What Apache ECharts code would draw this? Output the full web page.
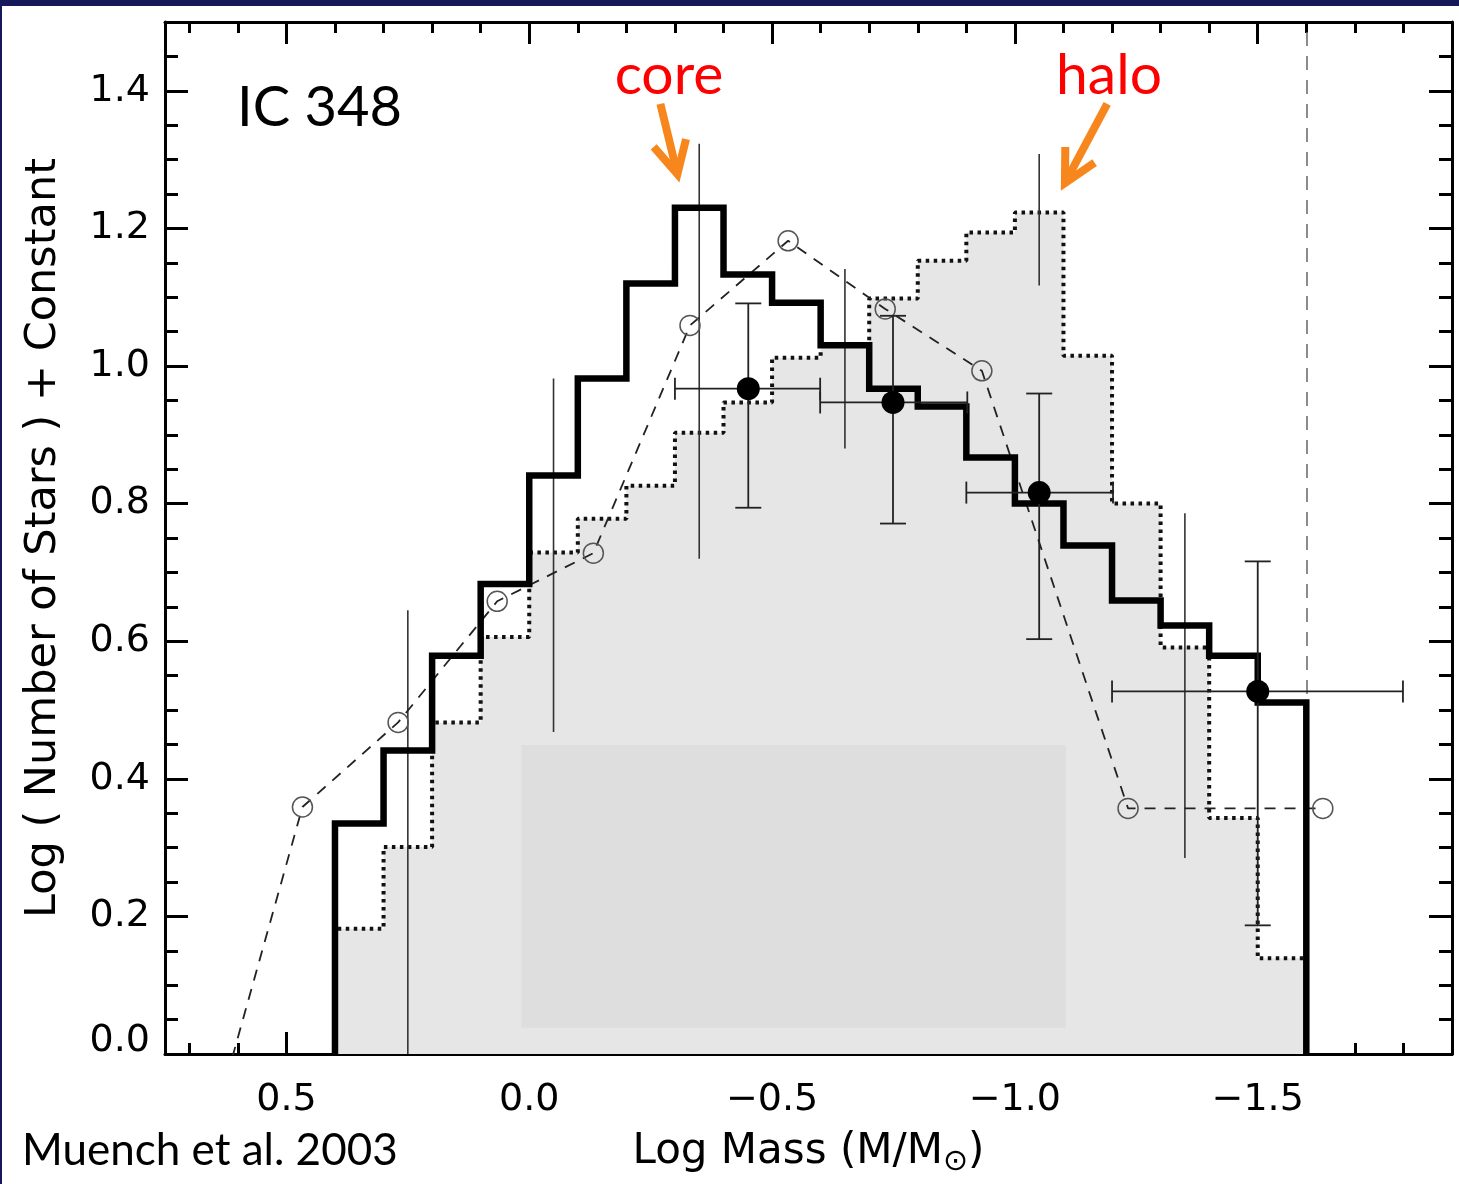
<!DOCTYPE html>
<html><head><meta charset="utf-8">
<script src="https://cdn.jsdelivr.net/npm/echarts@6/dist/echarts.min.js"></script>
<style>html,body{margin:0;padding:0;background:#fff;}#c{width:1459px;height:1184px;}</style>
</head><body><div id="c"></div>
<script>
// ---- data ----
const binEdges = [0.4,0.3,0.2,0.1,0.0,-0.1,-0.2,-0.3,-0.4,-0.5,-0.6,-0.7,-0.8,-0.9,-1.0,-1.1,-1.2,-1.3,-1.4,-1.5,-1.6];
const coreCounts = [0.335,0.441,0.579,0.683,0.841,0.982,1.120,1.230,1.133,1.092,1.030,0.967,0.941,0.867,0.800,0.739,0.659,0.623,0.579,0.511];
const haloCounts = [0.182,0.301,0.482,0.606,0.729,0.778,0.826,0.903,0.947,1.012,1.030,1.098,1.153,1.194,1.223,1.015,0.800,0.591,0.343,0.139];
const modelX = [0.667,0.467,0.270,0.066,-0.132,-0.331,-0.533,-0.733,-0.932,-1.233,-1.634];
const modelY = [-0.145,0.359,0.482,0.658,0.728,1.059,1.182,1.083,0.993,0.357,0.357];
const binnedX   = [-0.451,-0.749,-1.050,-1.500];
const binnedY   = [0.967,0.947,0.816,0.527];
const binnedXLo = [-0.300,-0.599,-0.900,-1.200];
const binnedXHi = [-0.599,-0.902,-1.202,-1.799];
const binnedYLo = [0.794,0.771,0.603,0.187];
const binnedYHi = [1.091,1.073,0.960,0.716];
const histErrX  = [0.25,-0.05,-0.35,-0.65,-1.05,-1.35];
const histErrLo = [0.0,0.468,0.720,0.880,1.117,0.285];
const histErrHi = [0.645,0.982,1.323,1.141,1.308,0.786];
const completenessLimit = -1.6;
const maskBox = [0.016,0.038,-1.105,0.449];
const arrowCore = [-0.270,1.381,-0.305,1.279];
const arrowHalo = [-1.190,1.381,-1.103,1.266];
const xMajorTicks = [0.5,0.0,-0.5,-1.0,-1.5];
const xMinorTicks = [0.7,0.6,0.4,0.3,0.2,0.1,-0.1,-0.2,-0.3,-0.4,-0.6,-0.7,-0.8,-0.9,-1.1,-1.2,-1.3,-1.4,-1.6,-1.7,-1.8];
const yMajorTicks = [0,0.2,0.4,0.6,0.8,1.0,1.2,1.4];
const yMinorTicks = [0.05,0.1,0.15,0.25,0.3,0.35,0.45,0.5,0.55,0.65,0.7,0.75,0.85,0.9,0.95,1.05,1.1,1.15,1.25,1.3,1.35,1.45];
const xRange = [-1.9, 0.75];
const yRange = [0, 1.5];

// ---- helpers ----
function stepPoints(vals){
  const pts=[[binEdges[0],0]];
  vals.forEach((v,i)=>{pts.push([binEdges[i],v]);pts.push([binEdges[i+1],v]);});
  pts.push([binEdges[binEdges.length-1],0]);
  return pts;
}
const TICKFONT='DejaVu Sans';
const black='#000';
function xAx(pos, major, withLabels){
  return {
    type:'value', min:xRange[0], max:xRange[1], inverse:true, position:pos,
    axisLine:{show:major, onZero:false, lineStyle:{color:black,width:3}},
    axisTick:{show:true, inside:true, length: major?22:11, customValues: major?xMajorTicks:xMinorTicks, lineStyle:{color:black,width:3}},
    axisLabel: withLabels ? {show:true, customValues:xMajorTicks, margin:27, color:black, fontFamily:TICKFONT, fontSize:38,
      formatter:v=> (v<0?'\u2212'+(-v).toFixed(1):Math.abs(v).toFixed(1))} : {show:false},
    splitLine:{show:false}
  };
}
function yAx(pos, major, withLabels){
  return {
    type:'value', min:yRange[0], max:yRange[1], position:pos,
    axisLine:{show:major, onZero:false, lineStyle:{color:black,width:3}},
    axisTick:{show:true, inside:true, length: major?23:13, customValues: major?yMajorTicks:yMinorTicks, lineStyle:{color:black,width:3}},
    axisLabel: withLabels ? {show:true, customValues:yMajorTicks, margin:15, color:black, fontFamily:TICKFONT, fontSize:38,
      formatter:v=> v===0?'{z|0.0}':v.toFixed(1), rich:{z:{fontFamily:TICKFONT,fontSize:38,color:black,padding:[0,0,26,0]}}} : {show:false},
    splitLine:{show:false}
  };
}
const xAxes=[xAx('bottom',true,true), xAx('bottom',false,false), xAx('top',true,false), xAx('top',false,false)];
Object.assign(xAxes[0],{name:'Log Mass (M/M{s|\u2299})', nameLocation:'middle', nameGap:73,
  nameTextStyle:{fontFamily:TICKFONT,fontSize:42,color:black, rich:{s:{fontFamily:TICKFONT,fontSize:30,color:black,padding:[20,0,0,0]}}}});
const yAxes=[yAx('left',true,true), yAx('left',false,false), yAx('right',true,false), yAx('right',false,false)];
Object.assign(yAxes[0],{name:'Log ( Number of Stars ) + Constant', nameLocation:'middle', nameGap:100,
  nameTextStyle:{fontFamily:TICKFONT,fontSize:43,color:black}});

const orange='#f7861c';
const option={
  animation:false,
  backgroundColor:'#ffffff',
  grid:{left:165, top:22, width:1287, height:1032, containLabel:false},
  xAxis:xAxes, yAxis:yAxes,
  series:[
    { // halo histogram (dotted, filled)
      type:'line', data:stepPoints(haloCounts), symbol:'none', showSymbol:false,
      lineStyle:{color:'#111',width:4,type:[3.5,4.5]}, areaStyle:{color:'#e6e6e6',opacity:1}, z:2,
      markLine:{silent:true, z:3, symbol:['none','none'], label:{show:false},
        lineStyle:{color:'#666',width:1.5,type:[14,10]}, data:[{xAxis:completenessLimit}]}
    },
    { // masked box
      type:'custom', data:[maskBox], encode:{x:[0,2],y:[1,3]}, z:2,
      renderItem:(p,api)=>{const a=api.coord([api.value(0),api.value(1)]), b=api.coord([api.value(2),api.value(3)]);
        return {type:'rect',shape:{x:Math.min(a[0],b[0]),y:Math.min(a[1],b[1]),width:Math.abs(b[0]-a[0]),height:Math.abs(b[1]-a[1])},style:{fill:'#dedede'}};}
    },
    { // histogram error bars
      type:'custom', data:histErrX.map((x,i)=>[x,histErrLo[i],histErrHi[i]]), encode:{x:0,y:[1,2]}, z:3,
      renderItem:(p,api)=>{const a=api.coord([api.value(0),api.value(1)]), b=api.coord([api.value(0),api.value(2)]);
        return {type:'line',shape:{x1:a[0],y1:a[1],x2:b[0],y2:b[1]},style:{stroke:'#333',lineWidth:1.6}};}
    },
    { // model dashed line with open circles
      type:'line', data:modelX.map((x,i)=>({value:[x,modelY[i]], symbol: modelY[i]<0?'none':'circle'})),
      symbol:'circle', symbolSize:20, showSymbol:true,
      lineStyle:{color:'#222',width:1.8,type:[11,9]},
      itemStyle:{color:'rgba(255,255,255,0)',borderColor:'#555',borderWidth:1.5}, z:4
    },
    { // core histogram (thick solid)
      type:'line', data:stepPoints(coreCounts), symbol:'none', showSymbol:false,
      lineStyle:{color:'#000',width:6.5,join:'miter',cap:'butt'}, z:6
    },
    { // binned points error bars
      type:'custom', z:7,
      data:binnedX.map((x,i)=>[x,binnedY[i],binnedXLo[i],binnedXHi[i],binnedYLo[i],binnedYHi[i]]), encode:{x:[0,2,3],y:[1,4,5]},
      renderItem:(p,api)=>{const x=api.value(0),y=api.value(1);
        const a=api.coord([api.value(2),y]), b=api.coord([api.value(3),y]), d=api.coord([x,api.value(4)]), e=api.coord([x,api.value(5)]);
        const st={stroke:'#222',lineWidth:1.8}, h=11;
        const L=(x1,y1,x2,y2)=>({type:'line',shape:{x1,y1,x2,y2},style:st});
        return {type:'group',children:[L(a[0],a[1],b[0],b[1]),L(d[0],d[1],e[0],e[1]),
          L(a[0],a[1]-h,a[0],a[1]+h),L(b[0],b[1]-h,b[0],b[1]+h),L(d[0]-13,d[1],d[0]+13,d[1]),L(e[0]-13,e[1],e[0]+13,e[1])]};}
    },
    { // binned points
      type:'scatter', data:binnedX.map((x,i)=>[x,binnedY[i]]), symbol:'circle', symbolSize:23,
      itemStyle:{color:'#000',opacity:1}, z:8
    },
    { // arrows
      type:'custom', z:9, clip:false, data:[arrowCore,arrowHalo], encode:{x:[0,2],y:[1,3]},
      renderItem:(p,api)=>{const s=api.coord([api.value(0),api.value(1)]), t=api.coord([api.value(2),api.value(3)]);
        const ang=Math.atan2(s[1]-t[1],s[0]-t[0]), L=36, w=0.48;
        const w1=[t[0]+L*Math.cos(ang+w),t[1]+L*Math.sin(ang+w)], w2=[t[0]+L*Math.cos(ang-w),t[1]+L*Math.sin(ang-w)];
        return {type:'group',children:[
          {type:'line',shape:{x1:s[0],y1:s[1],x2:t[0]+3*Math.cos(ang),y2:t[1]+3*Math.sin(ang)},style:{stroke:orange,lineWidth:8}},
          {type:'polyline',shape:{points:[w1,t,w2]},style:{stroke:orange,lineWidth:8,fill:null,lineJoin:'miter'}}]};}
    }
  ],
  graphic:[
    {type:'rect',shape:{x:0,y:0,width:1459,height:6},style:{fill:'#15195b'},silent:true},
    {type:'rect',shape:{x:0,y:0,width:2,height:1184},style:{fill:'#15195b'},silent:true},
    {type:'text',x:237,y:108,style:{text:'IC 348',font:'56px Lato',fill:'#000',align:'left',verticalAlign:'middle'}},
    {type:'text',x:669,y:76,style:{text:'core',font:'57px Lato',fill:'#ff0000',align:'center',verticalAlign:'middle'}},
    {type:'text',x:1109,y:76,style:{text:'halo',font:'57px Lato',fill:'#ff0000',align:'center',verticalAlign:'middle'}},
    {type:'text',x:22,y:1151,style:{text:'Muench et al. 2003',font:'44px Lato',fill:'#000',align:'left',verticalAlign:'middle'}}
  ]
};
const chart=echarts.init(document.getElementById('c'),null,{renderer:'canvas'});
chart.setOption(option);
</script></body></html>
